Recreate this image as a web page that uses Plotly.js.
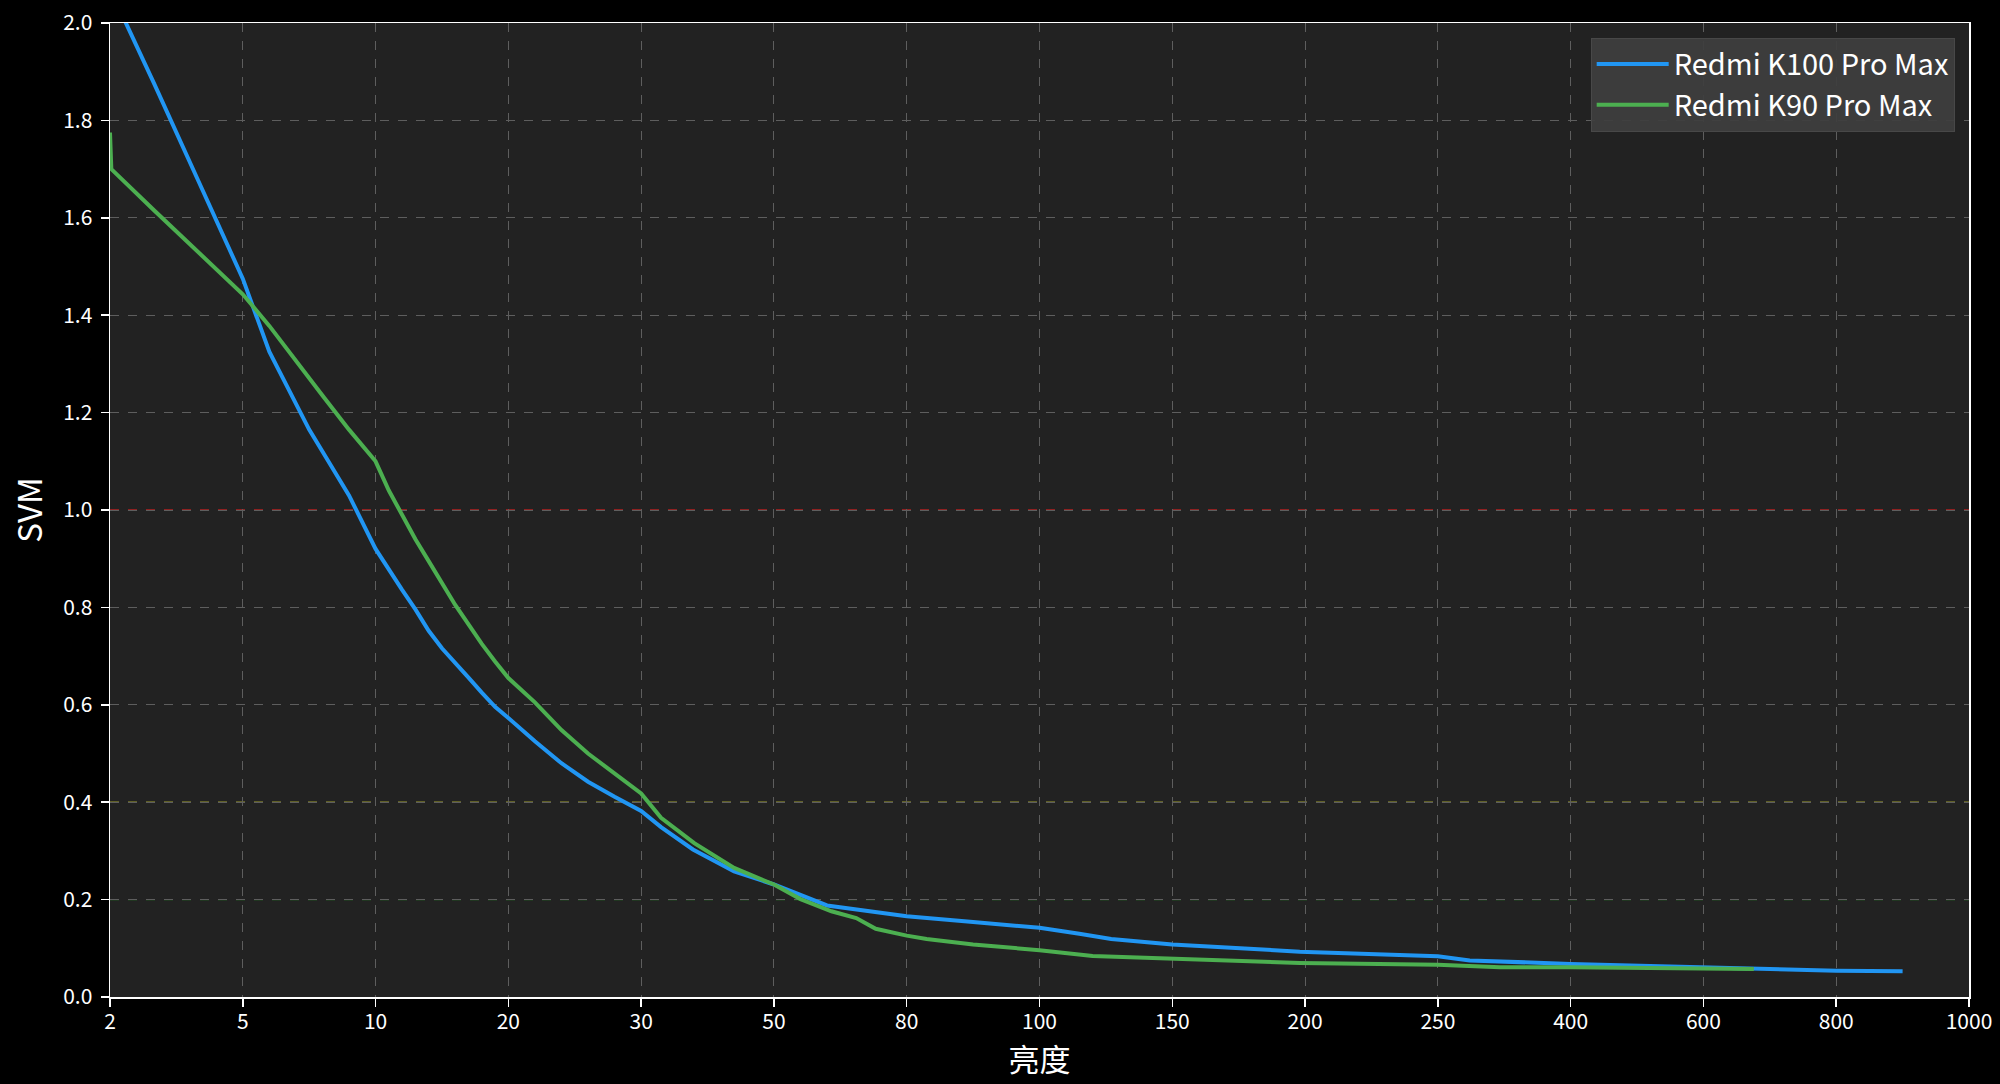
<!DOCTYPE html>
<html>
<head>
<meta charset="utf-8">
<script src="https://cdn.plot.ly/plotly-3.0.1.min.js"></script>
<style>
html,body{margin:0;padding:0;background:#000;}
#chart{width:2000px;height:1084px;}
</style>
</head>
<body>
<div id="chart"></div>
<script>
// Tick values of the (piecewise, evenly spaced) brightness axis
const tickValues = [2, 5, 10, 20, 30, 50, 80, 100, 150, 200, 250, 400, 600, 800, 1000];
const tickLabels = ["2", "5", "10", "20", "30", "50", "80", "100", "150", "200", "250", "400", "600", "800", "1000"];

// Redmi K100 Pro Max
const k100Brightness = [2, 3, 4, 5, 6, 7, 7.5, 8, 9, 10, 11, 12, 13, 14, 15, 16, 17, 18, 19, 20, 22, 24, 26, 28, 30, 33, 37.8, 44, 50, 62, 74, 80, 90, 97, 100, 115, 127, 150, 198, 250, 286, 400, 600, 800, 900];
const k100Svm = [2.07, 1.875, 1.675, 1.475, 1.325, 1.217, 1.165, 1.12, 1.03, 0.92, 0.877, 0.836, 0.796, 0.752, 0.716, 0.687, 0.656, 0.625, 0.596, 0.573, 0.525, 0.48, 0.442, 0.411, 0.382, 0.349, 0.303, 0.258, 0.231, 0.188, 0.174, 0.166, 0.154, 0.147, 0.142, 0.130, 0.119, 0.108, 0.093, 0.0836, 0.075, 0.068, 0.060, 0.054, 0.053];

// Redmi K90 Pro Max
const k90Brightness = [2, 2.03, 3, 4, 5, 6, 7, 8, 9, 10, 11, 12, 13, 14, 15, 16, 17, 18, 19, 20, 22, 24, 26, 28, 30, 33, 38, 44, 50, 56, 63, 68.6, 73, 80, 83, 90, 100, 120, 150, 198, 250, 320, 400, 600, 676];
const k90Svm = [1.775, 1.70, 1.615, 1.53, 1.443, 1.378, 1.305, 1.235, 1.165, 1.10, 1.04, 0.99, 0.94, 0.895, 0.85, 0.805, 0.765, 0.725, 0.689, 0.655, 0.605, 0.548, 0.50, 0.46, 0.418, 0.368, 0.316, 0.265, 0.231, 0.201, 0.176, 0.162, 0.140, 0.126, 0.119, 0.108, 0.096, 0.084, 0.078, 0.070, 0.066, 0.061, 0.061, 0.0575, 0.0575];

// Reference levels
const refLevels = [1.0, 0.4, 0.2];
const refColors = ["rgba(215,35,35,0.8)", "rgba(200,200,50,0.75)", "rgba(30,130,30,0.85)"];

const seriesNames = ["Redmi K100 Pro Max", "Redmi K90 Pro Max"];

// map brightness to evenly spaced tick position
function toPos(b) {
  for (let i = 0; i < tickValues.length - 1; i++) {
    const a = tickValues[i], c = tickValues[i + 1];
    if (b <= c || i === tickValues.length - 2) {
      return i + (b - a) / (c - a);
    }
  }
}
const tickPos = tickValues.map(toPos);

const font = "'Noto Sans CJK SC', 'Noto Sans', sans-serif";

const traces = [
  {
    x: k100Brightness.map(toPos), y: k100Svm, type: "scatter", mode: "lines",
    name: seriesNames[0], line: {color: "#2196F3", width: 4}
  },
  {
    x: k90Brightness.map(toPos), y: k90Svm, type: "scatter", mode: "lines",
    name: seriesNames[1], line: {color: "#4CAF50", width: 4}
  }
];

const shapes = refLevels.map((v, i) => ({
  type: "line", xref: "paper", x0: 0, x1: 1, yref: "y", y0: v, y1: v,
  line: {color: refColors[i], width: 1.4, dash: "dash"}, layer: "below"
}));

const layout = {
  width: 2000, height: 1084,
  paper_bgcolor: "#000000",
  plot_bgcolor: "#222222",
  margin: {l: 110, r: 31, t: 23, b: 87},
  font: {family: font, color: "#ffffff", size: 21},
  showlegend: true,
  legend: {
    x: 0.9923, y: 0.985, xanchor: "right", yanchor: "top",
    bgcolor: "rgba(62,62,62,0.95)", bordercolor: "#484848", borderwidth: 1,
    font: {family: font, size: 29, color: "#ffffff"},
    itemwidth: 72,
    tracegroupgap: 0
  },
  xaxis: {
    range: [0, tickValues.length - 1],
    tickmode: "array", tickvals: tickPos, ticktext: tickLabels,
    showgrid: true, gridcolor: "#5e5e5e", griddash: "dash", gridwidth: 1,
    showline: true, linecolor: "#ffffff", linewidth: 1.5, mirror: true,
    ticks: "outside", ticklen: 8, tickcolor: "#ffffff", tickwidth: 1.5,
    ticklabelstandoff: -3,
    tickfont: {family: font, size: 21, color: "#ffffff"},
    zeroline: false,
    title: {text: "亮度", font: {family: font, size: 31, color: "#ffffff"}, standoff: 2}
  },
  yaxis: {
    range: [0, 2.0],
    tickmode: "array", tickvals: [0, 0.2, 0.4, 0.6, 0.8, 1.0, 1.2, 1.4, 1.6, 1.8, 2.0],
    ticktext: ["0.0", "0.2", "0.4", "0.6", "0.8", "1.0", "1.2", "1.4", "1.6", "1.8", "2.0"],
    showgrid: true, gridcolor: "#5e5e5e", griddash: "dash", gridwidth: 1,
    showline: true, linecolor: "#ffffff", linewidth: 1.5, mirror: true,
    ticks: "outside", ticklen: 8, tickcolor: "#ffffff", tickwidth: 1.5,
    ticklabelstandoff: 4,
    tickfont: {family: font, size: 21, color: "#ffffff"},
    zeroline: false,
    title: {text: "SVM", font: {family: font, size: 33, color: "#ffffff"}, standoff: 10}
  },
  shapes: shapes
};

Plotly.newPlot("chart", traces, layout, {displayModeBar: false, staticPlot: true});
</script>
</body>
</html>
